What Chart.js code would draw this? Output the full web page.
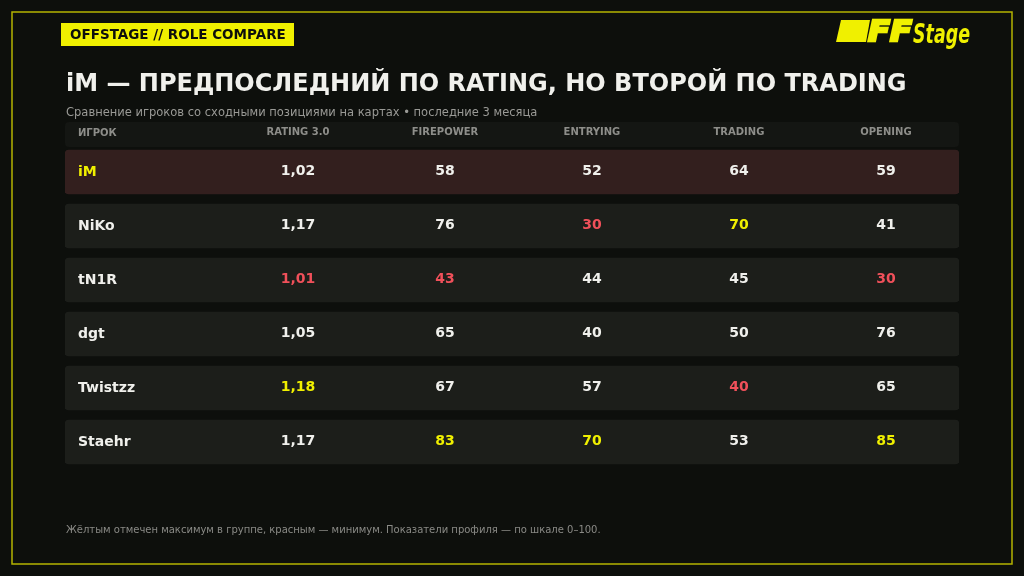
<!DOCTYPE html>
<html>
<head>
<meta charset="utf-8">
<script src="https://cdn.jsdelivr.net/npm/chart.js@4.4.1/dist/chart.umd.min.js"></script>
<style>
  html, body { margin: 0; padding: 0; background: #0d0f0c; }
  #wrap { width: 1024px; height: 576px; position: relative; }
</style>
</head>
<body>
<div id="wrap"><canvas id="chart" width="1024" height="576"></canvas></div>
<script>
// table data
const players = ['iM', 'NiKo', 'tN1R', 'dgt', 'Twistzz', 'Staehr'];
const columns = ['RATING 3.0', 'FIREPOWER', 'ENTRYING', 'TRADING', 'OPENING'];
const rating = ['1,02', '1,17', '1,01', '1,05', '1,18', '1,17'];
const firepower = [58, 76, 43, 65, 67, 83];
const entrying = [52, 30, 44, 40, 57, 70];
const trading = [64, 70, 45, 50, 40, 53];
const opening = [59, 41, 30, 76, 65, 85];
const focusPlayer = 'iM';

const YELLOW = '#f0f000';
const RED = '#f0505a';
const WHITE = '#f0f0ec';

const table = [rating, firepower, entrying, trading, opening];

// max -> yellow, min -> red
function cellColor(col, i) {
  const nums = table[col].map(v => typeof v === 'string' ? parseFloat(v.replace(',', '.')) : v);
  const v = nums[i];
  if (v === Math.max(...nums)) return YELLOW;
  if (v === Math.min(...nums)) return RED;
  return WHITE;
}

const X_MIN = -1.585, X_MAX = 4.497;

// text squeezed/stretched into a given width
function fitText(ctx, txt, x, y, w, stroke) {
  const m = ctx.measureText(txt).width;
  ctx.save();
  ctx.translate(x, y);
  ctx.scale(w / m, 1);
  if (stroke) {
    ctx.lineWidth = stroke;
    ctx.lineJoin = 'miter';
    ctx.strokeStyle = ctx.fillStyle;
    ctx.strokeText(txt, 0, 0);
  }
  ctx.fillText(txt, 0, 0);
  ctx.restore();
}

const tablePlugin = {
  id: 'tablePlugin',
  beforeDraw(chart) {
    const ctx = chart.ctx;
    const area = chart.chartArea;
    ctx.save();
    ctx.fillStyle = '#0d0f0c';
    ctx.fillRect(0, 0, chart.width, chart.height);

    // frame
    ctx.strokeStyle = '#b4b400';
    ctx.lineWidth = 1.5;
    ctx.strokeRect(12, 12, 1000, 552);

    // tag
    ctx.fillStyle = '#f0f000';
    ctx.fillRect(61, 23, 233, 23);
    ctx.fillStyle = '#0d0f0c';
    ctx.font = 'bold 13.5px "DejaVu Sans"';
    ctx.textBaseline = 'middle';
    ctx.fillText('OFFSTAGE // ROLE COMPARE', 70, 35);

    // logo
    ctx.fillStyle = '#f0f000';
    ctx.beginPath();
    ctx.moveTo(841, 20); ctx.lineTo(870, 20); ctx.lineTo(866, 42); ctx.lineTo(836, 42);
    ctx.closePath(); ctx.fill();
    ctx.textBaseline = 'alphabetic';
    ctx.font = 'italic bold 29px "DejaVu Sans"';
    fitText(ctx, 'FF', 868, 41, 44, 2.5);
    ctx.font = 'italic bold 26px "DejaVu Sans"';
    fitText(ctx, 'Stage', 913, 43, 57);

    // title
    ctx.fillStyle = '#f0f0ec';
    ctx.font = 'bold 24px "DejaVu Sans"';
    ctx.textBaseline = 'middle';
    ctx.fillText('iM — ПРЕДПОСЛЕДНИЙ ПО RATING, НО ВТОРОЙ ПО TRADING', 66, 85);

    ctx.fillStyle = '#9a9a96';
    ctx.font = '11.5px "DejaVu Sans"';
    ctx.fillText('Сравнение игроков со сходными позициями на картах • последние 3 месяца', 66, 113);

    // header band
    ctx.fillStyle = '#141613';
    ctx.beginPath();
    ctx.roundRect(area.left, 122, area.right - area.left, 25, 4);
    ctx.fill();
    ctx.fillStyle = '#8e8e8a';
    ctx.font = 'bold 10px "DejaVu Sans"';
    ctx.textAlign = 'left';
    ctx.fillText('ИГРОК', area.left + 13, 133);
    ctx.textAlign = 'center';
    const xs = chart.scales.x;
    columns.forEach((c, j) => ctx.fillText(c, xs.getPixelForValue(j), 132));

    // footer
    ctx.textAlign = 'left';
    ctx.fillStyle = '#8a8a86';
    ctx.font = '10px "DejaVu Sans"';
    ctx.fillText('Жёлтым отмечен максимум в группе, красным — минимум. Показатели профиля — по шкале 0–100.', 66, 530);
    ctx.restore();
  },
  afterDatasetsDraw(chart) {
    const ctx = chart.ctx;
    const xs = chart.scales.x, ys = chart.scales.y;
    ctx.save();
    ctx.textBaseline = 'middle';
    ctx.font = 'bold 14px "DejaVu Sans"';
    players.forEach((p, i) => {
      const y = ys.getPixelForValue(i);
      ctx.textAlign = 'left';
      ctx.fillStyle = p === focusPlayer ? YELLOW : WHITE;
      ctx.fillText(p, chart.chartArea.left + 13, y);
      ctx.textAlign = 'center';
      table.forEach((col, j) => {
        ctx.fillStyle = cellColor(j, i);
        ctx.fillText(String(col[i]), xs.getPixelForValue(j), y - 1);
      });
    });
    ctx.restore();
  }
};

new Chart(document.getElementById('chart'), {
  type: 'bar',
  data: {
    labels: players,
    datasets: [{
      data: players.map(() => [X_MIN, X_MAX]),
      backgroundColor: players.map(p => p === focusPlayer ? '#331f1e' : '#1c1e1a'),
      borderRadius: 4,
      borderSkipped: false,
      barThickness: 44
    }]
  },
  options: {
    responsive: false,
    animation: false,
    indexAxis: 'y',
    layout: { padding: { left: 65, right: 65, top: 145, bottom: 107 } },
    plugins: { legend: { display: false }, tooltip: { enabled: false } },
    scales: {
      x: { type: 'linear', min: X_MIN, max: X_MAX, display: false },
      y: { display: false }
    }
  },
  plugins: [tablePlugin]
});
</script>
</body>
</html>
